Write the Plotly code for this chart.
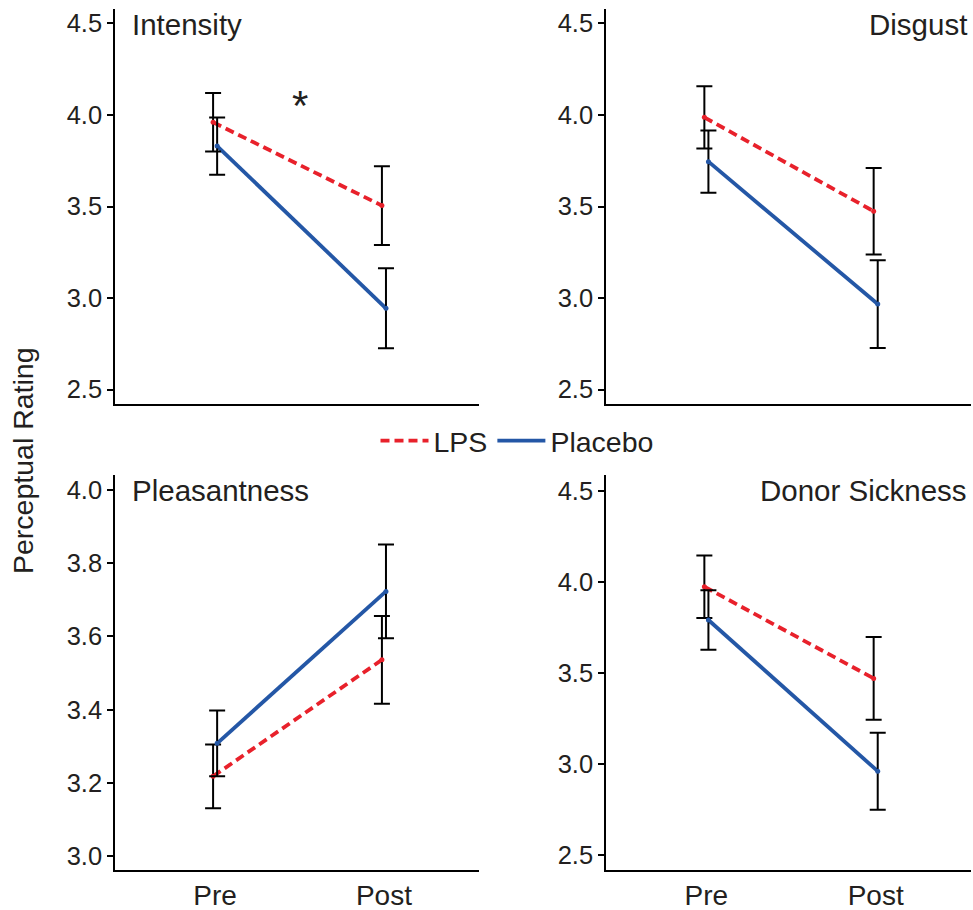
import plotly.graph_objects as go

timepoints = ["Pre", "Post"]
panels = ["Intensity", "Disgust", "Pleasantness", "Donor Sickness"]

lps_mean = {
    "Intensity": [3.96, 3.505],
    "Disgust": [3.987, 3.474],
    "Pleasantness": [3.218, 3.536],
    "Donor Sickness": [3.976, 3.472],
}
lps_err = {
    "Intensity": [0.16, 0.215],
    "Disgust": [0.17, 0.236],
    "Pleasantness": [0.087, 0.12],
    "Donor Sickness": [0.172, 0.227],
}
placebo_mean = {
    "Intensity": [3.83, 2.944],
    "Disgust": [3.745, 2.967],
    "Pleasantness": [3.308, 3.723],
    "Donor Sickness": [3.793, 2.962],
}
placebo_err = {
    "Intensity": [0.156, 0.218],
    "Disgust": [0.17, 0.24],
    "Pleasantness": [0.09, 0.128],
    "Donor Sickness": [0.164, 0.212],
}

y_ticks = {
    "Intensity": [2.5, 3.0, 3.5, 4.0, 4.5],
    "Disgust": [2.5, 3.0, 3.5, 4.0, 4.5],
    "Pleasantness": [3.0, 3.2, 3.4, 3.6, 3.8, 4.0],
    "Donor Sickness": [2.5, 3.0, 3.5, 4.0, 4.5],
}
y_ranges = {
    "Intensity": [2.421, 4.579],
    "Disgust": [2.421, 4.579],
    "Pleasantness": [2.962, 4.041],
    "Donor Sickness": [2.419, 4.59],
}

RED = "#E8212B"
BLUE = "#2457A6"
TXT = "#231F20"
FONT = "Liberation Sans, Arial, Helvetica, sans-serif"
W, H = 973, 910

xdom_left = [115 / W, 479 / W]
xdom_right = [606 / W, 971 / W]
ydom_top = [1 - 404 / H, 1 - 9 / H]
ydom_bot = [1 - 870 / H, 1 - 475 / H]
domains = [
    (xdom_left, ydom_top),
    (xdom_right, ydom_top),
    (xdom_left, ydom_bot),
    (xdom_right, ydom_bot),
]

fig = go.Figure()
dodge = 0.012
xi = list(range(len(timepoints)))

for k, name in enumerate(panels):
    idx = "" if k == 0 else str(k + 1)
    xa, ya = "x" + idx, "y" + idx
    x_lps = [v - dodge for v in xi]
    x_pla = [v + dodge for v in xi]
    fig.add_trace(go.Scatter(
        x=x_lps, y=lps_mean[name], mode="lines",
        line=dict(color=RED, width=3.8, dash="9px,5px"),
        name="LPS", showlegend=(k == 0), legendgroup="LPS",
        xaxis=xa, yaxis=ya))
    fig.add_trace(go.Scatter(
        x=x_pla, y=placebo_mean[name], mode="lines",
        line=dict(color=BLUE, width=3.8),
        name="Placebo", showlegend=(k == 0), legendgroup="Placebo",
        xaxis=xa, yaxis=ya))
    for xs, ms, es, col in ((x_lps, lps_mean[name], lps_err[name], RED),
                            (x_pla, placebo_mean[name], placebo_err[name], BLUE)):
        fig.add_trace(go.Scatter(
            x=xs, y=ms, mode="markers",
            marker=dict(size=5, color=col),
            error_y=dict(type="data", array=es, visible=True,
                         color="black", thickness=2, width=8),
            showlegend=False, hoverinfo="skip",
            xaxis=xa, yaxis=ya))

    xd, yd = domains[k]
    bottom = k >= 2
    fig.layout["xaxis" + idx] = dict(
        domain=xd, anchor=ya, range=[-0.593, 1.563],
        tickvals=xi, ticktext=timepoints, showticklabels=bottom,
        ticks="", showline=True, linecolor="black", linewidth=1.6,
        showgrid=False, zeroline=False,
        tickfont=dict(family=FONT, size=28, color=TXT))
    fig.layout["yaxis" + idx] = dict(
        domain=yd, anchor=xa, range=y_ranges[name],
        tickvals=y_ticks[name], tickformat=".1f",
        ticks="outside", ticklen=6, tickwidth=1.6, tickcolor="black",
        showline=True, linecolor="black", linewidth=1.6,
        showgrid=False, zeroline=False,
        tickfont=dict(family=FONT, size=25.5, color=TXT))
    left = k % 2 == 0
    fig.add_annotation(
        text=name, xref=xa + " domain", yref=ya + " domain",
        x=0.041 if left else 0.994, y=0.962,
        xanchor="left" if left else "right", yanchor="middle",
        showarrow=False, font=dict(family=FONT, size=29.5, color=TXT))

fig.add_annotation(
    text="*", xref="x", yref="y", x=0.5, y=4.05,
    showarrow=False, font=dict(family=FONT, size=42, color=TXT))

fig.add_annotation(
    text="Perceptual Rating", xref="paper", yref="paper",
    x=23 / W, y=1 - 461 / H, textangle=-90,
    xanchor="center", yanchor="middle",
    showarrow=False, font=dict(family=FONT, size=28.5, color=TXT))

fig.update_layout(
    width=W, height=H,
    margin=dict(l=0, r=0, t=0, b=0),
    paper_bgcolor="white", plot_bgcolor="white",
    font=dict(family=FONT, color=TXT),
    legend=dict(orientation="h", x=517 / W, y=1 - 441 / H,
                xanchor="center", yanchor="middle", itemwidth=48,
                font=dict(family=FONT, size=28.5, color=TXT),
                bgcolor="rgba(0,0,0,0)"),
)

fig.write_html("out.html")
